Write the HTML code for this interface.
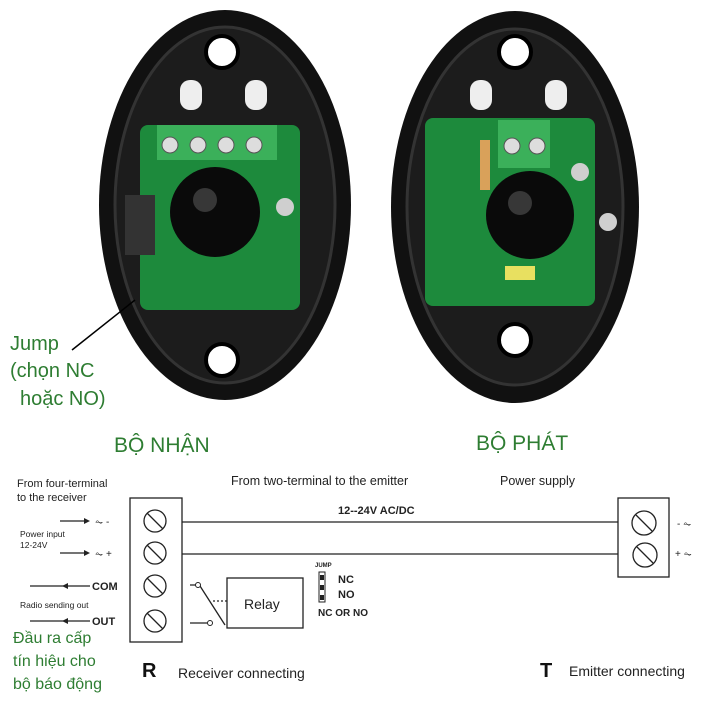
<!DOCTYPE html><html><head><style>body{margin:0;background:#fff}svg{display:block}text{font-family:"Liberation Sans",sans-serif}</style></head><body>
<svg width="720" height="720" viewBox="0 0 720 720" xmlns="http://www.w3.org/2000/svg">
<rect width="720" height="720" fill="#fff"/>
<!-- left sensor -->
<ellipse cx="225" cy="205" rx="126" ry="195" fill="#111"/>
<ellipse cx="225" cy="205" rx="110" ry="178" fill="#1c1c1c" stroke="#333" stroke-width="3"/>
<circle cx="222" cy="52" r="16" fill="#fff" stroke="#000" stroke-width="4"/>
<circle cx="222" cy="360" r="16" fill="#fff" stroke="#000" stroke-width="4"/>
<rect x="180" y="80" width="22" height="30" rx="10" fill="#eee"/><rect x="245" y="80" width="22" height="30" rx="10" fill="#eee"/>
<rect x="140" y="125" width="160" height="185" rx="8" fill="#1d8a3c"/>
<rect x="157" y="125" width="120" height="35" fill="#3bb05a"/>
<g fill="#ddd" stroke="#555"><circle cx="170" cy="145" r="8"/><circle cx="198" cy="145" r="8"/><circle cx="226" cy="145" r="8"/><circle cx="254" cy="145" r="8"/></g>
<rect x="125" y="195" width="30" height="60" fill="#333"/>
<circle cx="215" cy="212" r="45" fill="#0a0a0a"/><circle cx="205" cy="200" r="12" fill="#555" opacity=".6"/>
<circle cx="285" cy="207" r="9" fill="#cfcfcf"/>
<!-- right sensor -->
<ellipse cx="515" cy="207" rx="124" ry="196" fill="#111"/>
<ellipse cx="515" cy="207" rx="108" ry="178" fill="#1c1c1c" stroke="#333" stroke-width="3"/>
<circle cx="515" cy="52" r="16" fill="#fff" stroke="#000" stroke-width="4"/>
<circle cx="515" cy="340" r="16" fill="#fff" stroke="#000" stroke-width="4"/>
<rect x="470" y="80" width="22" height="30" rx="10" fill="#eee"/><rect x="545" y="80" width="22" height="30" rx="10" fill="#eee"/>
<rect x="425" y="118" width="170" height="188" rx="8" fill="#1d8a3c"/>
<rect x="498" y="120" width="52" height="48" fill="#3bb05a"/>
<g fill="#ddd" stroke="#555"><circle cx="512" cy="146" r="8"/><circle cx="537" cy="146" r="8"/></g>
<rect x="480" y="140" width="10" height="50" fill="#d9a15a"/>
<circle cx="530" cy="215" r="44" fill="#0a0a0a"/><circle cx="520" cy="203" r="12" fill="#555" opacity=".6"/>
<circle cx="580" cy="172" r="9" fill="#cfcfcf"/><circle cx="608" cy="222" r="9" fill="#cfcfcf"/>
<rect x="505" y="266" width="30" height="14" fill="#e8e060"/>
<!-- labels -->
<line x1="72" y1="350" x2="135" y2="300" stroke="#000" stroke-width="1.5"/>
<g fill="#2e7d32" font-size="20"><text x="10" y="350">Jump</text><text x="10" y="377">(chọn NC</text><text x="20" y="405">hoặc NO)</text></g>
<g fill="#2e7d32" font-size="21"><text x="114" y="452">BỘ NHẬN</text><text x="476" y="450">BỘ PHÁT</text></g>
<!-- diagram -->
<g font-size="12.5" fill="#222"><text x="231" y="485">From two-terminal to the emitter</text><text x="500" y="485">Power supply</text></g>
<g font-size="11" fill="#222"><text x="17" y="487">From four-terminal</text><text x="17" y="501">to the receiver</text></g>
<g font-size="8.5" fill="#222"><text x="20" y="537">Power input</text><text x="20" y="548">12-24V</text><text x="20" y="608">Radio sending out</text></g>
<g stroke="#222" stroke-width="1.3" fill="none">
<rect x="130" y="498" width="52" height="144"/>
<line x1="182" y1="522" x2="618" y2="522"/><line x1="182" y1="554" x2="618" y2="554"/>
<rect x="618" y="498" width="51" height="79"/>
<rect x="227" y="578" width="76" height="50"/>
<circle cx="155" cy="521" r="11"/><circle cx="155" cy="553" r="11"/><circle cx="155" cy="586" r="11"/><circle cx="155" cy="621" r="11"/>
<circle cx="644" cy="523" r="12"/><circle cx="645" cy="555" r="12"/>
<path d="M147 513l16 16M147 545l16 16M147 578l16 16M147 613l16 16M636 515l16 16M637 547l16 16"/>
<path d="M190 585h6M190 623h17"/>
<line x1="200" y1="586" x2="225" y2="625"/>
<path d="M213 601h14" stroke-dasharray="2 2"/>
<path d="M60 521h25M60 553h25M30 586h60M30 621h60"/>
</g>
<circle cx="198" cy="585" r="2.5" fill="#fff" stroke="#222"/><circle cx="210" cy="623" r="2.5" fill="#fff" stroke="#222"/>
<g fill="#222"><path d="M90 521l-6-3v6zM90 553l-6-3v6zM62 586l6-3v6zM62 621l6-3v6z"/></g>
<g font-size="10" fill="#222"><text x="95" y="525">⏦ -</text><text x="95" y="557">⏦ +</text><text x="677" y="527">-  ⏦</text><text x="675" y="557">+ ⏦</text></g>
<g font-size="11" font-weight="bold" fill="#222"><text x="92" y="590">COM</text><text x="92" y="625">OUT</text><text x="338" y="514">12--24V AC/DC</text>
<text x="338" y="583">NC</text><text x="338" y="598">NO</text><text x="318" y="616" font-size="10">NC OR NO</text><text x="315" y="567" font-size="6">JUMP</text></g>
<rect x="319" y="572" width="6" height="30" fill="#fff" stroke="#222"/><rect x="320" y="575" width="4" height="5" fill="#222"/><rect x="320" y="585" width="4" height="5" fill="#222"/><rect x="320" y="595" width="4" height="5" fill="#222"/>
<text x="244" y="609" font-size="14" fill="#222">Relay</text>
<text x="142" y="677" font-size="20" font-weight="bold" fill="#111">R</text>
<text x="178" y="678" font-size="14" fill="#222">Receiver  connecting</text>
<text x="540" y="677" font-size="20" font-weight="bold" fill="#111">T</text>
<text x="569" y="676" font-size="14" fill="#222">Emitter  connecting</text>
<g fill="#2e7d32" font-size="16"><text x="13" y="643">Đầu ra cấp</text><text x="13" y="666">tín hiệu cho</text><text x="13" y="689">bộ báo động</text></g>
</svg></body></html>
